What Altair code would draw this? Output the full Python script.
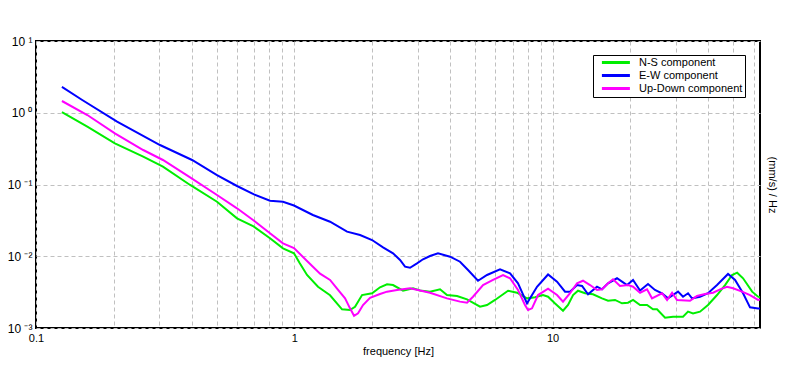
import altair as alt
import pandas as pd

# ---- data ----
NS_F = [0.126, 0.158, 0.202, 0.260, 0.310, 0.395, 0.502, 0.600, 0.692, 0.805, 0.904, 0.997, 1.05, 1.12,
        1.235, 1.375, 1.53, 1.643, 1.718, 1.829, 2.0, 2.147, 2.285, 2.411, 2.636, 2.881, 3.066, 3.352,
        3.665, 3.90, 4.265, 4.662, 5.235, 5.572, 5.984, 6.72, 7.28, 7.958, 8.55, 9.18, 9.60, 10.2, 10.97,
        11.47, 12.0, 12.54, 13.35, 14.33, 15.53, 16.39, 17.44, 18.56, 19.58, 20.48, 21.8, 23.2, 24.47,
        25.36, 27.24, 29.25, 31.97, 33.43, 34.96, 37.2, 39.95, 43.3, 46.5, 49.5, 51.8, 54.6, 59.2, 62.4, 63.5]
NS_V = [1.024, 0.639, 0.375, 0.244, 0.177, 0.0985, 0.0576, 0.0338, 0.0264, 0.0178, 0.0129, 0.0110, 0.00797,
        0.00548, 0.00376, 0.00286, 0.00182, 0.00178, 0.00198, 0.00288, 0.00305, 0.00369, 0.00406, 0.00397,
        0.00331, 0.00358, 0.00334, 0.00321, 0.00346, 0.00288, 0.00279, 0.00251, 0.00198, 0.00209, 0.00246,
        0.00331, 0.0031, 0.00259, 0.00268, 0.00288, 0.00273, 0.00221, 0.00174, 0.00209, 0.00288, 0.00331,
        0.00305, 0.00295, 0.00259, 0.0024, 0.00246, 0.00221, 0.00225, 0.00246, 0.00209, 0.00209, 0.00182,
        0.00182, 0.00139, 0.00144, 0.00144, 0.00169, 0.0016, 0.00169, 0.00209, 0.00288, 0.00397, 0.00548,
        0.0059, 0.00493, 0.00321, 0.00273, 0.00268]

EW_F = [0.126, 0.151, 0.206, 0.302, 0.402, 0.502, 0.600, 0.698, 0.805, 0.904, 0.997, 1.18, 1.375, 1.60,
        1.797, 2.0, 2.205, 2.411, 2.566, 2.683, 2.805, 2.985, 3.149, 3.352, 3.60, 4.009, 4.38, 4.704, 5.142,
        5.572, 6.257, 6.842, 7.345, 7.958, 8.70, 9.60, 10.4, 11.17, 11.68, 12.43, 13.0, 13.71, 14.85, 15.53,
        16.39, 17.75, 18.56, 19.41, 20.48, 21.8, 23.4, 24.9, 26.5, 27.98, 30.58, 31.97, 33.43, 34.65, 37.2,
        39.95, 43.3, 47.75, 50.85, 54.6, 58.1, 62.4, 63.5]
EW_V = [2.29, 1.506, 0.750, 0.355, 0.2196, 0.1356, 0.0953, 0.0730, 0.0594, 0.0576, 0.0510, 0.0376, 0.0303,
        0.0220, 0.0198, 0.01684, 0.01332, 0.0110, 0.00887, 0.00715, 0.00692, 0.00797, 0.00907, 0.01008,
        0.0110, 0.00986, 0.00839, 0.00643, 0.00456, 0.00548, 0.00658, 0.00579, 0.0042, 0.00221, 0.00376,
        0.00557, 0.00442, 0.00321, 0.00321, 0.00397, 0.00385, 0.00295, 0.00376, 0.00346, 0.0042, 0.00493,
        0.00442, 0.00397, 0.00467, 0.00333, 0.0041, 0.00339, 0.00305, 0.00259, 0.00321, 0.00273, 0.00305,
        0.00259, 0.00273, 0.00305, 0.00397, 0.00566, 0.00467, 0.00305, 0.00194, 0.00187, 0.00187]

UD_F = [0.126, 0.158, 0.202, 0.260, 0.310, 0.395, 0.502, 0.600, 0.692, 0.805, 0.904, 0.997, 1.12, 1.258,
        1.375, 1.477, 1.572, 1.643, 1.703, 1.765, 1.845, 1.964, 2.147, 2.285, 2.498, 2.805, 3.066, 3.352,
        3.90, 4.38, 4.662, 4.918, 5.378, 5.879, 6.427, 6.842, 7.345, 7.816, 8.03, 8.32, 8.78, 9.60, 10.4,
        10.97, 11.68, 12.43, 13.11, 13.96, 14.85, 15.53, 16.39, 17.13, 18.23, 19.58, 20.48, 21.8, 23.2,
        24.25, 26.5, 27.73, 29.0, 30.3, 34.03, 36.2, 38.9, 41.8, 44.5, 47.3, 49.95, 54.1, 58.1, 62.4, 63.5]
UD_V = [1.458, 0.930, 0.517, 0.3026, 0.2196, 0.126, 0.0714, 0.0466, 0.032, 0.0209, 0.01515, 0.01303,
        0.00859, 0.00571, 0.00467, 0.00339, 0.00259, 0.00188, 0.00148, 0.0016, 0.00209, 0.00264, 0.00298,
        0.00321, 0.00339, 0.00358, 0.00334, 0.0031, 0.00259, 0.00233, 0.00225, 0.00273, 0.00397, 0.00467,
        0.00548, 0.00493, 0.00339, 0.00209, 0.00178, 0.00188, 0.00288, 0.00354, 0.00288, 0.00233, 0.00305,
        0.0042, 0.00456, 0.00397, 0.00339, 0.00346, 0.0042, 0.00477, 0.00385, 0.00397, 0.00376, 0.0031,
        0.00346, 0.00259, 0.00305, 0.00246, 0.0031, 0.00246, 0.0024, 0.00279, 0.00298, 0.0031, 0.00346,
        0.00376, 0.00358, 0.00321, 0.00288, 0.00246, 0.0025]

SERIES = ["N-S component", "E-W component", "Up-Down component"]
COLORS = ["#00ee00", "#0000ff", "#ff00ff"]

X_GRID = [0.1, 0.2, 0.3, 0.4, 0.5, 0.6, 0.7, 0.8, 0.9, 1, 2, 3, 4, 5, 6, 7, 8, 9, 10, 20, 30, 40, 50, 60]
Y_TICKS = [0.001, 0.01, 0.1, 1, 10]

rows = []
for name, fs, vs in zip(SERIES, [NS_F, EW_F, UD_F], [NS_V, EW_V, UD_V]):
    for f, v in zip(fs, vs):
        rows.append({"series": name, "freq": f, "val": v})
df = pd.DataFrame(rows)

FONT = "Liberation Sans"

xscale = alt.Scale(type="log", domain=[0.1, 63.5], nice=False)
yscale = alt.Scale(type="log", domain=[0.001, 10], nice=False)

x_enc = alt.X("freq:Q", scale=xscale,
              axis=alt.Axis(values=X_GRID, title="frequency [Hz]",
                            labelExpr="datum.value == 0.1 ? '0.1' : (datum.value == 1 ? '1' : (datum.value == 10 ? '10' : ''))",
                            ticks=False, tickSize=0, domain=False, labelPadding=4, titlePadding=2,
                            grid=True, labelFlush=False, labelOverlap=False))

ylab = ("datum.value > 5 ? '10 \u00b9' : datum.value > 0.5 ? '10 \u2070' : datum.value > 0.05 ? '10 \u207b\u00b9' : "
        "datum.value > 0.005 ? '10 \u207b\u00b2' : '10 \u207b\u00b3'")

lines = alt.Chart(df).mark_line(strokeWidth=2, clip=True).encode(
    x=x_enc,
    y=alt.Y("val:Q", scale=yscale,
            axis=alt.Axis(values=Y_TICKS, title=None, labelExpr=ylab, ticks=False, tickSize=0,
                          domain=False, labelPadding=4, grid=True, labelFontSize=12)),
    color=alt.Color("series:N", scale=alt.Scale(domain=SERIES, range=COLORS), sort=SERIES,
                    legend=alt.Legend(orient="none", legendX=557, legendY=14, title=None,
                                      symbolType="M0.4,0H8.4", symbolSize=49, symbolStrokeWidth=3,
                                      labelFontSize=11, labelFont=FONT, labelOffset=33,
                                      labelExpr="datum.label + '   '",
                                      strokeColor="black", fillColor="white", padding=2,
                                      rowPadding=0, labelLimit=300)),
    order=alt.Order("freq:Q"),
)

right = alt.Chart(df).mark_line(opacity=0).encode(
    x=alt.X("freq:Q", scale=xscale),
    y=alt.Y("val:Q", scale=yscale,
            axis=alt.Axis(orient="right", title="(mm/s) / Hz", labels=False, ticks=False, tickSize=0,
                          domain=False, grid=False, titlePadding=6)),
    detail="series:N",
)

chart = alt.layer(lines, right).resolve_scale(y="independent").properties(
    width=724, height=287,
    autosize=alt.AutoSizeParams(type="none"),
    padding={"left": 28, "top": 33, "right": 28, "bottom": 29},
    background="white",
).configure_view(stroke="black", strokeWidth=2).configure_axis(
    labelFont=FONT, labelFontSize=11, labelColor="black", titleFont=FONT, titleFontSize=11,
    titleFontWeight="normal", titleColor="black", gridColor="#c0c0c0", gridDash=[4, 3], gridWidth=1,
    gridOpacity=1,
)

chart.save("out.html", embed_options={"renderer": "svg", "actions": False})
